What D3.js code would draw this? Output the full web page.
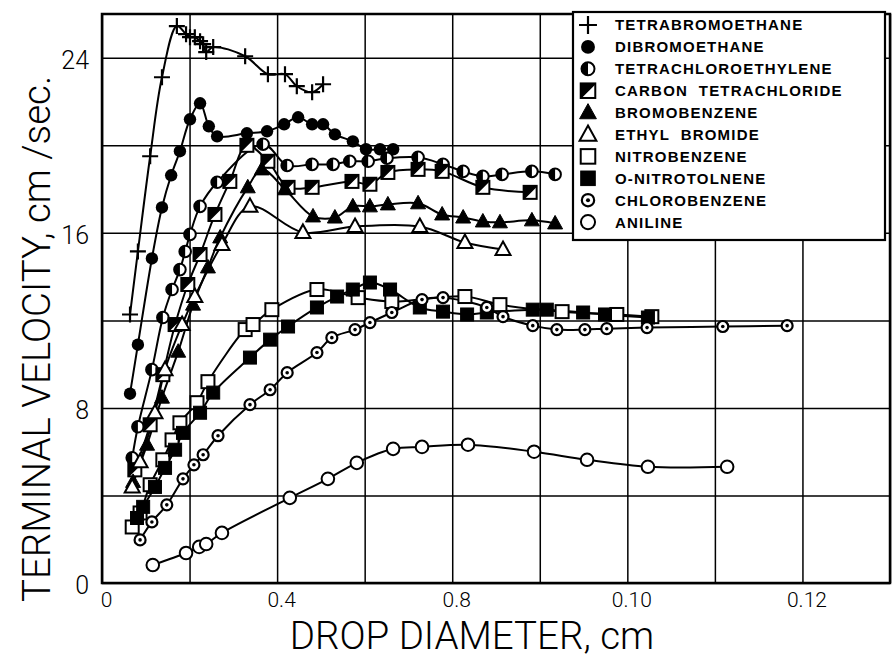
<!DOCTYPE html>
<html>
<head>
<meta charset="utf-8">
<script src="https://cdn.jsdelivr.net/npm/d3@7"></script>
<style>
html,body{margin:0;padding:0;background:#fff;}
svg{display:block;}
</style>
</head>
<body>
<svg id="chart" width="892" height="658"></svg>
<script>
// ---------- DATA (drop diameter, terminal velocity) ----------
const xTickValues = [0, 0.4, 0.8, 1.2, 1.6];
const xTickLabels = ["0", "0.4", "0.8", "0.10", "0.12"];
const yTickValues = [0, 8, 16, 24];
const yTickLabels = ["0", "8", "16", "24"];

const tetrabromoethane = [[0.064,12.27],[0.082,15.15],[0.110,19.50],[0.137,23.11],[0.171,25.45],[0.192,25.08],[0.201,24.94],[0.212,24.94],[0.224,24.76],[0.231,24.62],[0.238,24.26],[0.254,24.49],[0.327,24.07],[0.379,23.25],[0.418,23.25],[0.445,22.70],[0.480,22.43],[0.505,22.79]];
const dibromoethane = [[0.064,8.65],[0.082,10.89],[0.114,14.83],[0.137,17.16],[0.158,18.63],[0.178,19.73],[0.201,21.19],[0.224,21.92],[0.244,20.87],[0.263,20.41],[0.331,20.55],[0.377,20.64],[0.416,20.96],[0.448,21.28],[0.480,20.96],[0.505,20.96],[0.532,20.50],[0.573,20.18],[0.603,19.82],[0.635,19.82],[0.665,19.82]];
const tetrachloroethylene = [[0.069,5.72],[0.082,7.14],[0.114,9.75],[0.139,12.13],[0.160,13.41],[0.178,14.32],[0.190,15.15],[0.201,15.93],[0.224,17.21],[0.263,18.31],[0.368,20.05],[0.423,19.08],[0.480,19.13],[0.528,19.13],[0.566,19.27],[0.608,19.27],[0.651,19.41],[0.722,19.45],[0.779,19.13],[0.825,18.81],[0.870,18.58],[0.914,18.67],[0.982,18.81],[1.035,18.67]];
const carbonTetrachloride = [[0.075,5.17],[0.110,7.23],[0.139,9.52],[0.167,11.81],[0.196,13.64],[0.224,15.01],[0.258,16.84],[0.292,18.35],[0.331,20.00],[0.379,19.27],[0.425,18.08],[0.480,18.08],[0.571,18.35],[0.612,18.22],[0.653,18.76],[0.722,18.90],[0.777,18.81],[0.870,18.08],[0.978,17.85]];
const bromobenzene = [[0.071,4.62],[0.103,6.32],[0.137,8.47],[0.174,10.57],[0.208,12.72],[0.242,14.42],[0.270,15.79],[0.333,18.08],[0.365,18.90],[0.418,17.99],[0.482,16.75],[0.532,16.70],[0.573,17.21],[0.612,17.21],[0.653,17.30],[0.722,17.35],[0.777,16.84],[0.825,16.70],[0.870,16.52],[0.909,16.48],[0.982,16.57],[1.035,16.43]];
const ethylBromide = [[0.069,4.39],[0.087,5.54],[0.121,7.78],[0.144,9.75],[0.183,11.81],[0.212,13.09],[0.274,15.47],[0.338,17.21],[0.459,16.02],[0.578,16.29],[0.726,16.29],[0.829,15.56],[0.916,15.24]];
const nitrobenzene = [[0.069,2.56],[0.087,3.20],[0.110,4.49],[0.139,5.63],[0.160,6.54],[0.178,7.32],[0.217,8.24],[0.242,9.20],[0.327,11.58],[0.345,11.81],[0.388,12.49],[0.491,13.41],[0.585,13.04],[0.662,12.86],[0.829,13.09],[0.909,12.72],[1.051,12.40],[1.176,12.27],[1.256,12.17]];
const oNitrotoluene = [[0.080,2.97],[0.094,3.48],[0.121,4.39],[0.144,5.26],[0.167,6.09],[0.185,6.86],[0.224,7.78],[0.254,8.70],[0.338,10.30],[0.384,11.12],[0.425,11.72],[0.491,12.59],[0.537,13.09],[0.573,13.41],[0.612,13.73],[0.658,13.41],[0.726,12.59],[0.779,12.40],[0.834,12.27],[0.879,12.36],[0.984,12.49],[1.016,12.49],[1.099,12.36],[1.149,12.27],[1.247,12.13]];
const chlorobenzene = [[0.087,1.97],[0.114,2.79],[0.148,3.57],[0.185,4.76],[0.210,5.40],[0.231,5.86],[0.265,6.73],[0.338,8.15],[0.384,8.83],[0.423,9.61],[0.491,10.53],[0.525,11.21],[0.578,11.58],[0.612,11.90],[0.662,12.36],[0.731,12.95],[0.779,13.04],[0.879,12.59],[0.916,12.17],[0.984,11.76],[1.039,11.58],[1.103,11.58],[1.153,11.62],[1.245,11.67],[1.418,11.72],[1.565,11.76]];
const aniline = [[0.116,0.82],[0.192,1.37],[0.222,1.65],[0.238,1.78],[0.274,2.29],[0.429,3.89],[0.516,4.76],[0.582,5.49],[0.665,6.13],[0.731,6.22],[0.836,6.32],[0.987,6.00],[1.108,5.63],[1.247,5.31],[1.428,5.31]];

const seriesNames = ["TETRABROMOETHANE","DIBROMOETHANE","TETRACHLOROETHYLENE","CARBON  TETRACHLORIDE","BROMOBENZENE","ETHYL  BROMIDE","NITROBENZENE","O-NITROTOLNENE","CHLOROBENZENE","ANILINE"];
const seriesData = [tetrabromoethane, dibromoethane, tetrachloroethylene, carbonTetrachloride, bromobenzene, ethylBromide, nitrobenzene, oNitrotoluene, chlorobenzene, aniline];
const seriesMarkers = ["plus","dot","half","ccl4","triFilled","triOpen","sqOpen","sqFilled","dotted","open"];

// ---------- LAYOUT ----------
const svg = d3.select("#chart");
const L = 102, R = 890, T = 14, B = 583;
const x = d3.scaleLinear().domain([0, 1.8]).range([L, R]);
const y = d3.scaleLinear().domain([0, 26]).range([B, T]);
const FONT = "Roboto, 'Liberation Sans', Arial, sans-serif";

// grid
const grid = svg.append("g");
grid.append("g").attr("transform", `translate(0,${B})`)
  .call(d3.axisBottom(x).tickValues(d3.range(0, 1.81, 0.2)).tickSize(-(B - T)).tickFormat(""))
  .call(g => g.select(".domain").remove())
  .call(g => g.selectAll("line").attr("stroke", "#000").attr("stroke-width", 1.5));
grid.append("g").attr("transform", `translate(${L},0)`)
  .call(d3.axisLeft(y).tickValues(d3.range(0, 25, 4)).tickSize(-(R - L)).tickFormat(""))
  .call(g => g.select(".domain").remove())
  .call(g => g.selectAll("line").attr("stroke", "#000").attr("stroke-width", 1.5));

// frame
svg.append("rect").attr("x", L).attr("y", T).attr("width", R - L).attr("height", B - T)
  .attr("fill", "none").attr("stroke", "#000").attr("stroke-width", 2.5);

// tick labels
const xAx = svg.append("g").attr("transform", `translate(0,${B})`)
  .call(d3.axisBottom(x).tickValues(xTickValues).tickSize(0).tickPadding(9)
    .tickFormat((d, i) => xTickLabels[i]));
xAx.select(".domain").remove();
xAx.selectAll("text").attr("font-family", FONT).attr("font-weight", 300)
  .attr("font-size", 21).attr("fill", "#000").attr("dx", 4);

const yAx = svg.append("g").attr("transform", `translate(${L},0)`)
  .call(d3.axisLeft(y).tickValues(yTickValues).tickSize(0).tickPadding(13)
    .tickFormat((d, i) => yTickLabels[i]));
yAx.select(".domain").remove();
yAx.selectAll("text").attr("font-family", FONT).attr("font-weight", 300)
  .attr("font-size", 25).attr("fill", "#000").attr("dy", "0.42em");

// axis titles
svg.append("text").attr("x", 472).attr("y", 649).attr("text-anchor", "middle")
  .attr("font-family", FONT).attr("font-weight", 300).attr("font-size", 38.5)
  .text("DROP DIAMETER, cm");
svg.append("text").attr("transform", "translate(50,339) rotate(-90)").attr("text-anchor", "middle")
  .attr("font-family", FONT).attr("font-weight", 300).attr("font-size", 38.5)
  .text("TERMINAL VELOCITY, cm /sec.");

// ---------- MARKERS ----------
function drawMarker(g, type, s) {
  s = s || 1;
  const sw = 2;
  switch (type) {
    case "plus":
      g.append("path").attr("d", `M${-8*s},0H${8*s}M0,${-8*s}V${8*s}`).attr("stroke", "#000").attr("stroke-width", 2.2);
      break;
    case "dot":
      g.append("circle").attr("r", 6.2*s).attr("fill", "#000");
      break;
    case "half": {
      const r = 5.8*s;
      g.append("circle").attr("r", r).attr("fill", "#fff").attr("stroke", "#000").attr("stroke-width", sw);
      g.append("path").attr("d", `M0,${-r}A${r},${r} 0 0 0 0,${r}Z`).attr("fill", "#000");
      break;
    }
    case "ccl4": {
      const h = 6.5*s;
      g.append("rect").attr("x", -h).attr("y", -h).attr("width", 2*h).attr("height", 2*h)
        .attr("fill", "#fff").attr("stroke", "#000").attr("stroke-width", sw);
      g.append("path").attr("d", `M${-h},${-h}L${h},${-h}L${-h},${h}Z`).attr("fill", "#000");
      g.append("path").attr("d", `M${h},${-h}L${-h},${h}`).attr("stroke", "#000").attr("stroke-width", 1.5);
      break;
    }
    case "triFilled":
      g.append("path").attr("d", `M0,${-8*s}L${7.5*s},${5.5*s}L${-7.5*s},${5.5*s}Z`).attr("fill", "#000").attr("stroke", "#000").attr("stroke-width", 1);
      break;
    case "triOpen":
      g.append("path").attr("d", `M0,${-8*s}L${7.5*s},${5.5*s}L${-7.5*s},${5.5*s}Z`).attr("fill", "#fff").attr("stroke", "#000").attr("stroke-width", sw);
      break;
    case "sqOpen": {
      const h = 6.5*s;
      g.append("rect").attr("x", -h).attr("y", -h).attr("width", 2*h).attr("height", 2*h)
        .attr("fill", "#fff").attr("stroke", "#000").attr("stroke-width", sw);
      break;
    }
    case "sqFilled": {
      const h = 6.5*s;
      g.append("rect").attr("x", -h).attr("y", -h).attr("width", 2*h).attr("height", 2*h)
        .attr("fill", "#000").attr("stroke", "#000").attr("stroke-width", 1);
      break;
    }
    case "dotted":
      g.append("circle").attr("r", 5.5*s).attr("fill", "#fff").attr("stroke", "#000").attr("stroke-width", 2.2);
      g.append("circle").attr("r", 1.8*s).attr("fill", "#000");
      break;
    case "open":
      g.append("circle").attr("r", 6.3*s).attr("fill", "#fff").attr("stroke", "#000").attr("stroke-width", sw);
      break;
  }
}

// ---------- LINES ----------
const line = d3.line().x(d => x(d[0])).y(d => y(d[1])).curve(d3.curveCatmullRom.alpha(0.5));
const linesG = svg.append("g");
seriesData.forEach(data => {
  linesG.append("path").attr("d", line(data)).attr("fill", "none")
    .attr("stroke", "#000").attr("stroke-width", 2);
});

// ---------- POINTS ----------
const ptsG = svg.append("g");
seriesData.forEach((data, si) => {
  data.forEach(d => {
    const g = ptsG.append("g").attr("transform", `translate(${x(d[0])},${y(d[1])})`);
    drawMarker(g, seriesMarkers[si]);
  });
});

// ---------- LEGEND ----------
const lg = svg.append("g");
lg.append("rect").attr("x", 573).attr("y", 12).attr("width", 312).attr("height", 228)
  .attr("fill", "#fff").attr("stroke", "#000").attr("stroke-width", 2.2);
seriesNames.forEach((name, i) => {
  const cy = 25 + i * 21.9;
  const g = lg.append("g").attr("transform", `translate(588,${cy})`);
  drawMarker(g, seriesMarkers[i], 1.12);
  lg.append("text").attr("x", 615).attr("y", cy).attr("dy", "0.36em")
    .attr("font-family", "'Liberation Sans', Arial, sans-serif").attr("font-weight", "bold")
    .attr("font-size", 15).attr("letter-spacing", 1.2).attr("xml:space", "preserve")
    .style("white-space", "pre").text(name);
});
</script>
</body>
</html>
